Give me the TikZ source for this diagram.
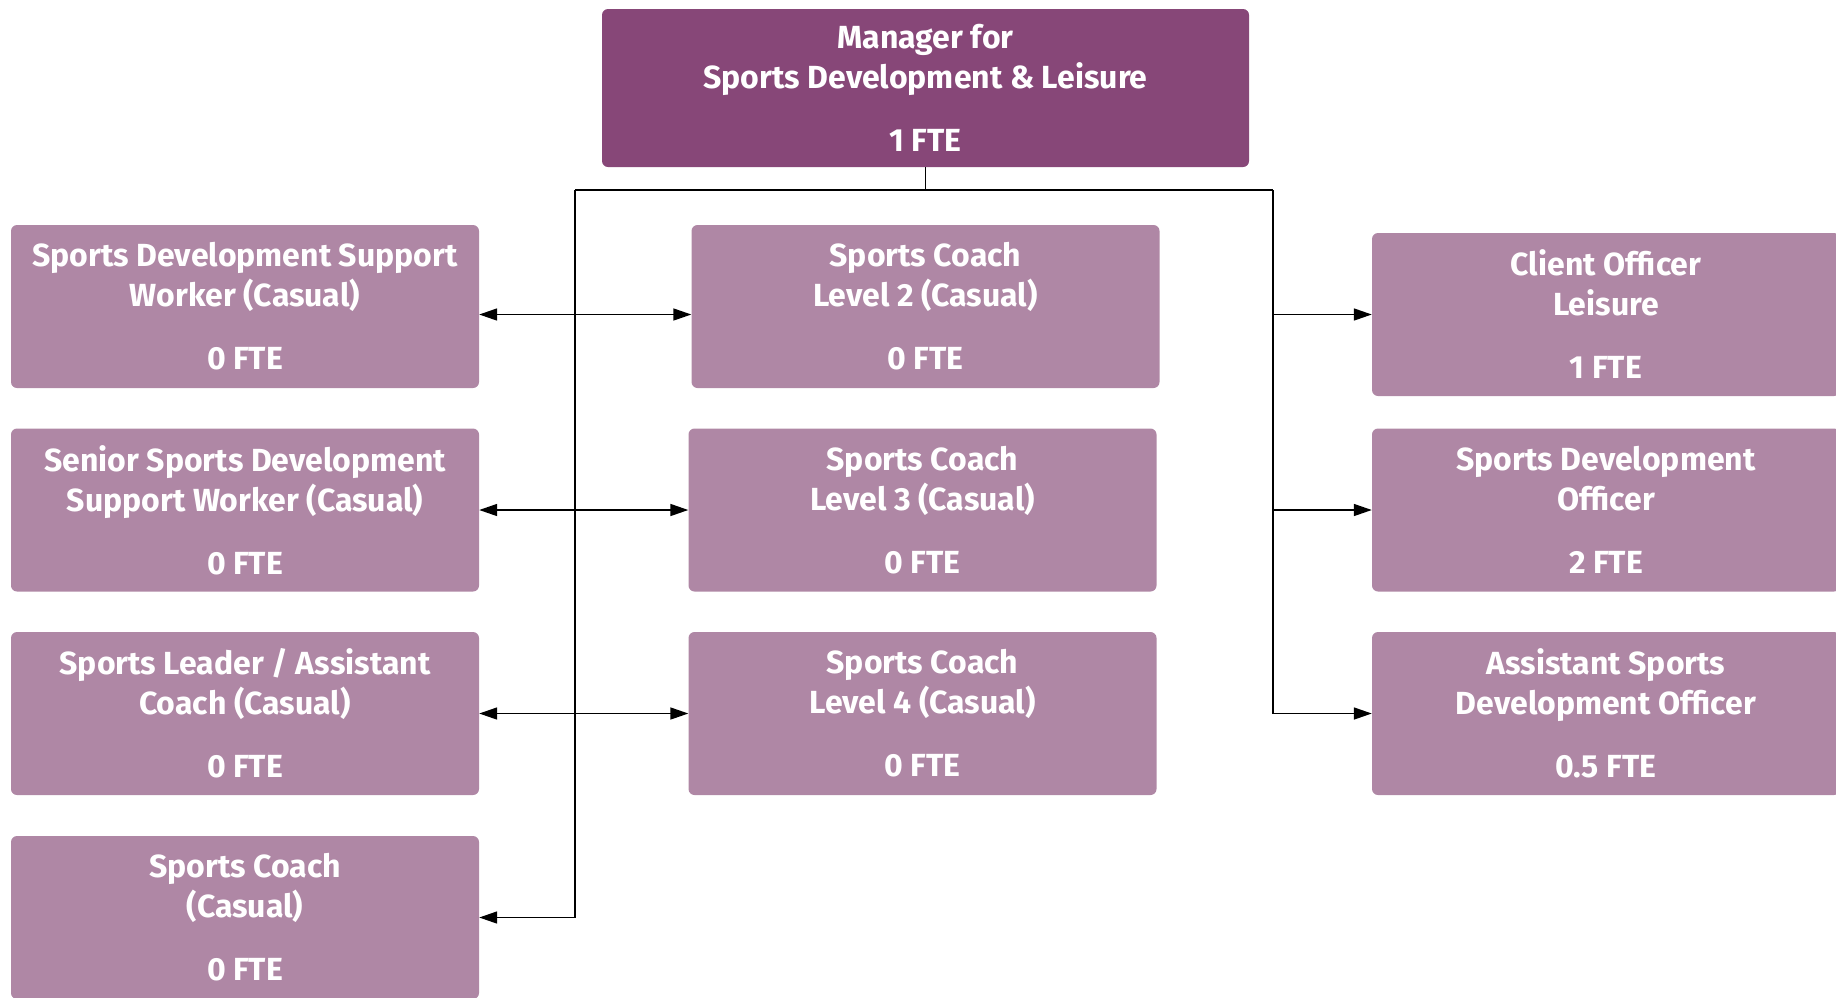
\documentclass[tikz,border=0pt]{standalone}
\usepackage{fontspec}
\setmainfont{Fira Sans}
\usetikzlibrary{arrows.meta}
\definecolor{mgrfill}{RGB}{135,71,120}
\definecolor{postfill}{RGB}{175,135,165}
\begin{document}
\begin{tikzpicture}[x=1pt,y=-1pt,
  post/.style={rectangle, rounded corners=6pt, fill=postfill, text=white,
    align=center, font=\fontsize{32}{40}\selectfont\bfseries,
    minimum width=468pt, minimum height=163pt, inner sep=0pt},
  head/.style={post, fill=mgrfill, minimum width=647pt, minimum height=158pt},
  link/.style={line width=1.6pt, draw=black},
  onetip/.style={link, -{Triangle[length=18pt,width=12pt]}},
  twotip/.style={link, {Triangle[length=18pt,width=12pt]}-{Triangle[length=18pt,width=12pt]}}
]
\clip (0,0) rectangle (1836,997);

% manager
\node[head] (mgr) at (925.5,88) {Manager for\\Sports Development \& Leisure\\[23pt]1 FTE};

% left column
\node[post] (l1) at (245,306.5) {Sports Development Support\\Worker (Casual)\\[23pt]0 FTE};
\node[post] (l2) at (245,510) {Senior Sports Development\\Support Worker (Casual)\\[23pt]0 FTE};
\node[post] (l3) at (245,713.5) {Sports Leader / Assistant\\Coach (Casual)\\[23pt]0 FTE};
\node[post] (l4) at (245,917.5) {Sports Coach\\(Casual)\\[23pt]0 FTE};

% middle column
\node[post] (m1) at (925.5,306.5) {Sports Coach\\Level 2 (Casual)\\[23pt]0 FTE};
\node[post] (m2) at (922.5,510) {Sports Coach\\Level 3 (Casual)\\[23pt]0 FTE};
\node[post] (m3) at (922.5,713.5) {Sports Coach\\Level 4 (Casual)\\[23pt]0 FTE};

% right column
\node[post] (r1) at (1606,314.5) {Client Officer\\Leisure\\[23pt]1 FTE};
\node[post] (r2) at (1606,510) {Sports Development\\Officer\\[23pt]2 FTE};
\node[post] (r3) at (1606,713.5) {Assistant Sports\\Development Officer\\[23pt]0.5 FTE};

% distribution bus
\coordinate (lbus) at (575,190);
\coordinate (rbus) at (1273,190);
\draw[link] (mgr.south) -- (mgr.south |- lbus);
\draw[link] (lbus) -- (rbus);
\draw[link] (rbus) -- (rbus |- r3.west);
\draw[onetip] (lbus) |- (l4.east);

% row links (the first row runs level with the client officer box)
\draw[twotip] (l1.east |- r1.west) -- (m1.west |- r1.west);
\draw[twotip] (l2.east) -- (m2.west);
\draw[twotip] (l3.east) -- (m3.west);
\draw[onetip] (rbus |- r1.west) -- (r1.west);
\draw[onetip] (rbus |- r2.west) -- (r2.west);
\draw[onetip] (rbus |- r3.west) -- (r3.west);
\end{tikzpicture}
\end{document}
